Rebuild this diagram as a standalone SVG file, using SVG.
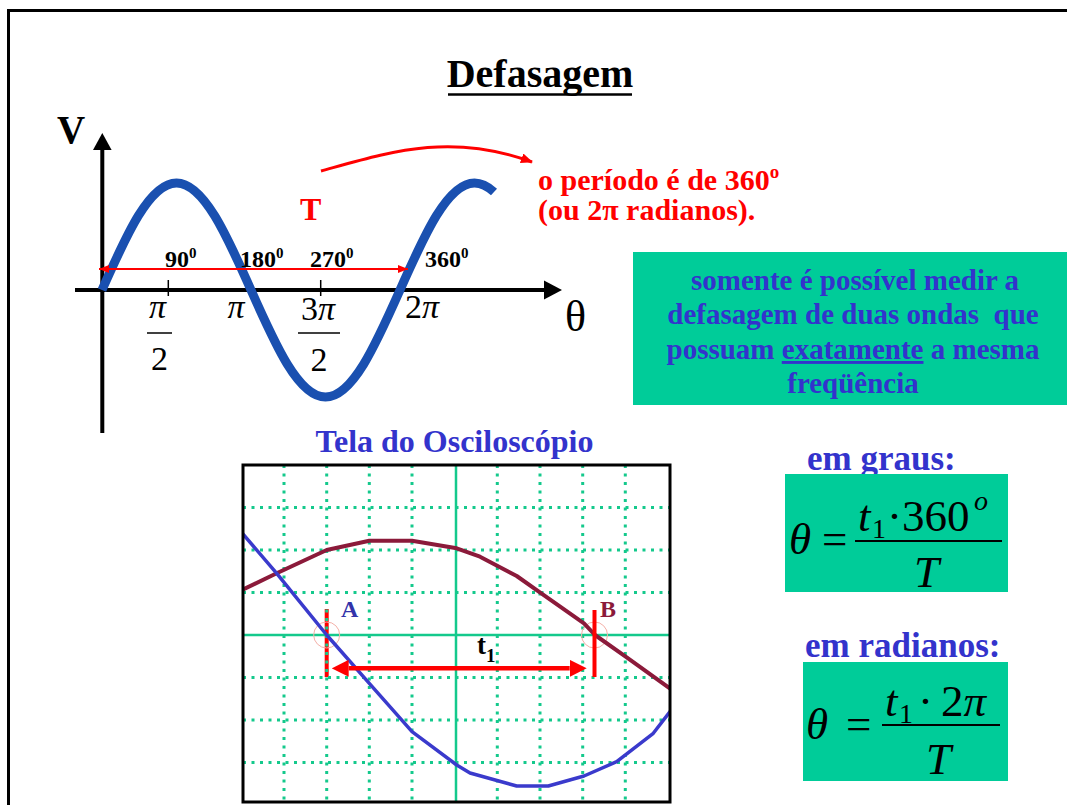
<svg xmlns="http://www.w3.org/2000/svg" width="1067" height="805" viewBox="0 0 1067 805">
<defs>
<style>
.serif{font-family:"Liberation Serif","Times New Roman",serif}
.bold{font-weight:bold}
.red{fill:#ff0000}
.blue{fill:#3333cc}
.box{fill:#00cc99}
.grid{stroke:#14c98c;stroke-width:3;stroke-dasharray:3 5.5;fill:none}
.gridsolid{stroke:#14c98c;stroke-width:2.5;fill:none}
.deg{font-family:"Liberation Serif","Times New Roman",serif;font-weight:bold;font-size:24px;fill:#000}
.math{font-family:"Liberation Serif","Times New Roman",serif;font-size:34px;fill:#000}
.eq{font-family:"Liberation Serif","Times New Roman",serif;font-size:45px;fill:#000}
.eqs{font-family:"Liberation Serif","Times New Roman",serif;font-size:28px;fill:#000}
</style>
<marker id="arrSmall" viewBox="0 0 10 8" refX="10" refY="4" markerWidth="10" markerHeight="8" markerUnits="userSpaceOnUse" orient="auto-start-reverse">
<path d="M0,0 L10,4 L0,8 z" fill="#ff0000"/>
</marker>
<marker id="arrCurve" viewBox="0 0 12 10" refX="11" refY="5" markerWidth="12" markerHeight="10" markerUnits="userSpaceOnUse" orient="auto">
<path d="M0,0 L12,5 L0,10 z" fill="#ff0000"/>
</marker>
<marker id="arrBig" viewBox="0 0 17 17" refX="0" refY="8.5" markerWidth="17" markerHeight="17" markerUnits="userSpaceOnUse" orient="auto-start-reverse">
<path d="M0,0 L17,8.5 L0,17 z" fill="#ff0000"/>
</marker>
<clipPath id="scopeClip"><rect x="243" y="465" width="427" height="337"/></clipPath>
</defs>
<rect x="0" y="0" width="1067" height="805" fill="#ffffff"/>
<g id="frame">
<path d="M8.5,805 V10.5 H1067" fill="none" stroke="#000" stroke-width="3"/>
</g>
<g id="title">
<text x="540" y="87" text-anchor="middle" class="serif bold" font-size="40" fill="#000">Defasagem</text>
<line x1="448" y1="94.5" x2="632" y2="94.5" stroke="#000" stroke-width="2.5"/>
</g>
<g id="sine-graph">
<line x1="102.3" y1="433" x2="102.3" y2="146" stroke="#000" stroke-width="4"/>
<polygon points="102.3,133 93,150 111.6,150" fill="#000"/>
<line x1="75" y1="290" x2="548" y2="290" stroke="#000" stroke-width="4"/>
<polygon points="562,290 544,280.5 544,299.5" fill="#000"/>
<line x1="168.3" y1="280" x2="168.3" y2="296" stroke="#000" stroke-width="1.5"/>
<line x1="320.7" y1="280" x2="320.7" y2="296" stroke="#000" stroke-width="1.5"/>
<path d="M102,290 C126.3,235.2 149.54,183 176.5,183 C203.46,183 226.7,235.2 251,290 C275.3,344.8 298.54,397 325.5,397 C352.46,397 375.7,344.8 400,290 C424.3,235.2 447.54,183 474.5,183 Q484,183 494,192" fill="none" stroke="#1a50b0" stroke-width="9" stroke-linejoin="round"/>
<text x="57" y="143" class="serif bold" font-size="39" fill="#000">V</text>
<text x="565" y="331" class="serif" font-size="44" fill="#000">θ</text>
<text x="157.5" y="318" text-anchor="middle" class="math" font-style="italic">π</text>
<line x1="147" y1="333" x2="172" y2="333" stroke="#000" stroke-width="1.5"/>
<text x="159.5" y="370" text-anchor="middle" class="math">2</text>
<text x="236" y="318" text-anchor="middle" class="math" font-style="italic">π</text>
<text x="318" y="320" text-anchor="middle" class="math">3<tspan font-style="italic">π</tspan></text>
<line x1="298" y1="333" x2="340" y2="333" stroke="#000" stroke-width="1.5"/>
<text x="319" y="371" text-anchor="middle" class="math">2</text>
<text x="405" y="318" class="math">2<tspan font-style="italic">π</tspan></text>
<text x="165" y="267" class="deg">90<tspan font-size="15" dy="-9">0</tspan></text>
<text x="240" y="267" class="deg">180<tspan font-size="15" dy="-9">0</tspan></text>
<text x="310" y="267" class="deg">270<tspan font-size="15" dy="-9">0</tspan></text>
<text x="425" y="267" class="deg">360<tspan font-size="15" dy="-9">0</tspan></text>
<text x="300" y="220" class="serif bold red" font-size="32">T</text>
</g>
<g id="period-note">
<text x="538" y="190" class="serif bold red" font-size="30">o período é de 360<tspan font-size="19" dy="-12">o</tspan></text>
<text x="538" y="220" class="serif bold red" font-size="30">(ou 2π radianos).</text>
</g>
<g id="connectors">
<line x1="99" y1="269" x2="408" y2="269" stroke="#ff0000" stroke-width="2" marker-start="url(#arrSmall)" marker-end="url(#arrSmall)"/>
<path d="M321,171 C390,152 450,132 532,162" fill="none" stroke="#ff0000" stroke-width="3" marker-end="url(#arrCurve)"/>
</g>
<g id="note-box">
<rect x="633" y="252" width="434" height="153" class="box"/>
<g class="serif bold blue" font-size="29" text-anchor="middle">
<text x="855" y="290">somente é possível medir a</text>
<text x="853" y="324" xml:space="preserve">defasagem de duas ondas  que</text>
<text x="853" y="359">possuam <tspan text-decoration="underline">exatamente</tspan> a mesma</text>
<text x="853" y="393">freqüência</text>
</g>
</g>
<g id="scope">
<text x="454.5" y="452" text-anchor="middle" class="serif bold blue" font-size="32">Tela do Osciloscópio</text>
<rect x="243" y="465" width="427" height="337" fill="#fff"/>
<g clip-path="url(#scopeClip)">
<line x1="326.7" y1="609" x2="326.7" y2="677" stroke="#ff0000" stroke-width="4"/>
<g class="grid">
<path d="M284,465 V805 M369.3,465 V805 M412,465 V805 M497.3,465 V805 M540,465 V805 M582.7,465 V805 M625.3,465 V805 M326.7,465 V805"/>
<path d="M243,507.5 H670 M243,550 H670 M243,592.5 H670 M243,677.5 H670 M243,720 H670 M243,762.5 H670"/>
</g>
<g class="gridsolid">
<path d="M456,465 V805 M243,635 H670"/>
</g>
<circle cx="326.7" cy="635" r="13" fill="none" stroke="#f4b0a8" stroke-width="1"/>
<circle cx="594.5" cy="635" r="13" fill="none" stroke="#f4b0a8" stroke-width="1"/>
<polyline points="240,591 276.7,573.3 326.7,550 369.3,540.7 412,540.7 456.7,548.3 480,556.7 516.7,576 541.3,593.3 584,623.3 595,635 626.7,657.3 672,690" fill="none" stroke="#8b1a3a" stroke-width="4" stroke-linejoin="round"/>
<polyline points="242,533 276.7,573.3 326.7,635 369.3,683.3 412,731.7 456.7,765 470,773 516.7,786 548.3,786 584,776 616.7,761.7 653.3,733.3 672,709" fill="none" stroke="#3a3acc" stroke-width="3.5" stroke-linejoin="round"/>
<line x1="594.5" y1="610" x2="594.5" y2="677" stroke="#ff0000" stroke-width="4"/>
<line x1="348.7" y1="668.3" x2="569.7" y2="668.3" stroke="#ff0000" stroke-width="4.5" marker-start="url(#arrBig)" marker-end="url(#arrBig)"/>
</g>
<rect x="243" y="465" width="427" height="337" fill="none" stroke="#000" stroke-width="3"/>
<text x="341" y="617" class="serif bold" font-size="24" fill="#3333aa">A</text>
<text x="600" y="617" class="serif bold" font-size="24" fill="#8b1a3a">B</text>
<text x="477" y="654" class="serif bold" font-size="27" fill="#000">t<tspan font-size="19" dy="8">1</tspan></text>
</g>
<g id="formula-degrees">
<text x="807" y="470" class="serif bold blue" font-size="35">em graus:</text>
<rect x="785" y="474" width="223" height="118" class="box"/>
<text x="789" y="554" class="eq" font-style="italic">θ</text>
<text x="822" y="554" class="eq">=</text>
<line x1="855" y1="541" x2="1002" y2="541" stroke="#000" stroke-width="2"/>
<text x="858" y="531" class="eq" font-style="italic">t</text>
<text x="872" y="538" class="eqs">1</text>
<text x="887" y="531" class="eq">·</text>
<text x="902" y="531" class="eq">360</text>
<text x="974" y="510" class="eqs" font-style="italic">o</text>
<text x="914" y="587" class="eq" font-style="italic">T</text>
</g>
<g id="formula-radians">
<text x="805" y="657" class="serif bold blue" font-size="35">em radianos:</text>
<rect x="803" y="662" width="205" height="119" class="box"/>
<text x="806" y="739" class="eq" font-style="italic">θ</text>
<text x="846" y="739" class="eq">=</text>
<line x1="882" y1="725" x2="1000" y2="725" stroke="#000" stroke-width="2"/>
<text x="885" y="716" class="eq" font-style="italic">t</text>
<text x="899" y="723" class="eqs">1</text>
<text x="918" y="716" class="eq">·</text>
<text x="941" y="716" class="eq">2<tspan font-style="italic">π</tspan></text>
<text x="926" y="774" class="eq" font-style="italic">T</text>
</g>
</svg>
